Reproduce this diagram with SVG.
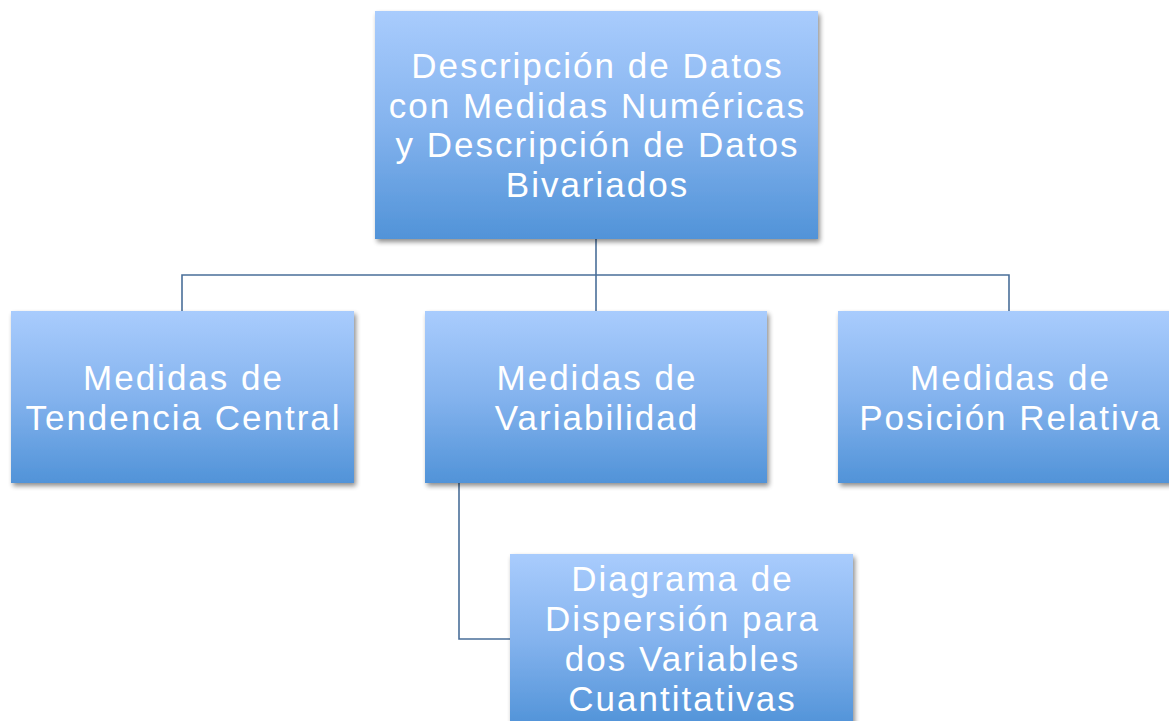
<svg xmlns="http://www.w3.org/2000/svg" width="1169" height="721" viewBox="0 0 1169 721">
<defs>
<linearGradient id="g" x1="0" y1="0" x2="0" y2="1">
<stop offset="0" stop-color="#a9ccfd"/>
<stop offset="0.5" stop-color="#84b3ee"/>
<stop offset="1" stop-color="#5193d8"/>
</linearGradient>
<filter id="sh" x="-10%" y="-10%" width="125%" height="130%">
<feGaussianBlur in="SourceAlpha" stdDeviation="2.5"/>
<feOffset dx="2" dy="3" result="b"/>
<feComponentTransfer><feFuncA type="linear" slope="0.45"/></feComponentTransfer>
<feMerge><feMergeNode/><feMergeNode in="SourceGraphic"/></feMerge>
</filter>
<style>
.box{fill:url(#g);filter:url(#sh);}
.t{font-family:"Liberation Sans",Arial,sans-serif;font-size:35px;letter-spacing:2px;fill:#ffffff;text-anchor:middle;}
.c{fill:none;stroke:#4a6f99;stroke-width:1.6;}
</style>
</defs>
<rect width="1169" height="721" fill="#ffffff"/>
<g id="connectors">
<path class="c" d="M596 239 V311"/>
<path class="c" d="M182 311 V275 H1009 V311"/>
<path class="c" d="M459 483 V639 H510"/>
</g>
<g id="root">
<rect class="box" x="375" y="11" width="443" height="228"/>
<text class="t" x="597.5" y="78">Descripción de Datos</text>
<text class="t" x="597.5" y="117.5">con Medidas Numéricas</text>
<text class="t" x="597.5" y="157">y Descripción de Datos</text>
<text class="t" x="597.5" y="197">Bivariados</text>
</g>
<g id="tendencia">
<rect class="box" x="11" y="311" width="343" height="172"/>
<text class="t" x="183.5" y="390">Medidas de</text>
<text class="t" x="183.5" y="429.5">Tendencia Central</text>
</g>
<g id="variabilidad">
<rect class="box" x="425" y="311" width="342" height="172"/>
<text class="t" x="597" y="390">Medidas de</text>
<text class="t" x="597" y="429.5">Variabilidad</text>
</g>
<g id="posicion">
<rect class="box" x="838" y="311" width="343" height="172"/>
<text class="t" x="1010.5" y="390">Medidas de</text>
<text class="t" x="1010.5" y="429.5">Posición Relativa</text>
</g>
<g id="dispersion">
<rect class="box" x="510" y="554" width="343" height="172"/>
<text class="t" x="682.5" y="591">Diagrama de</text>
<text class="t" x="682.5" y="631">Dispersión para</text>
<text class="t" x="682.5" y="671">dos Variables</text>
<text class="t" x="682.5" y="711">Cuantitativas</text>
</g>
</svg>
